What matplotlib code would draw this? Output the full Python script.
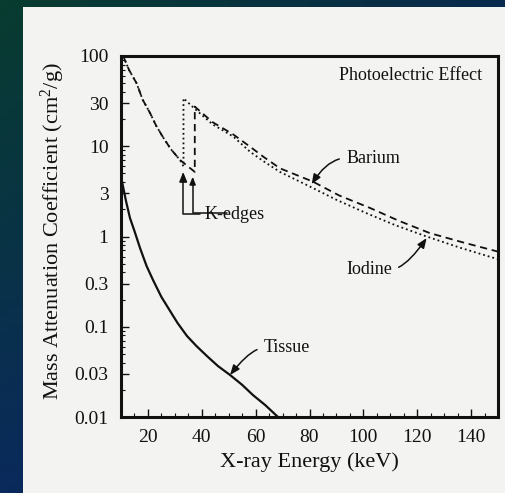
import numpy as np
import matplotlib
matplotlib.use('Agg')
import matplotlib.pyplot as plt
from matplotlib.patches import Rectangle
from matplotlib.ticker import FixedLocator, FixedFormatter, NullFormatter

plt.rcParams['font.family'] = ['Liberation Serif', 'DejaVu Serif']
plt.rcParams['mathtext.fontset'] = 'custom'
plt.rcParams['mathtext.rm'] = 'Liberation Serif'
plt.rcParams['mathtext.it'] = 'Liberation Serif:italic'

# ---------------- data ----------------
tissue_energy = [10.26, 11.86, 13.34, 15.0, 17.06, 19.5, 21.88, 25.0, 28.2, 31.0, 34.5, 38.0, 41.9, 46.0, 50.5, 55.0, 59.0, 63.5, 68.3]
tissue_mu     = [4.23, 2.47, 1.60, 1.15, 0.746, 0.471, 0.330, 0.214, 0.150, 0.110, 0.079, 0.0612, 0.0474, 0.0367, 0.0292, 0.0227, 0.0175, 0.0136, 0.010]

iodine_energy = [10.8, 13.0, 15.8, 18.0, 20.8, 23.0, 25.6, 28.5, 31.9, 33.2, 33.2, 37.4, 44.0, 51.7, 57.9, 63.0, 69.0, 80.2, 90.0, 101.2, 112.0, 123.5, 136.0, 150.0]
iodine_mu     = [100, 70, 49.8, 33.0, 23.3, 17.0, 12.6, 9.3, 7.05, 6.0, 34.0, 26.0, 17.5, 12.8, 8.7, 6.8, 5.2, 3.57, 2.55, 1.81, 1.33, 1.0, 0.75, 0.56]

barium_energy = [10.8, 13.0, 15.8, 18.0, 20.8, 23.0, 25.6, 28.5, 31.9, 34.5, 37.4, 37.4, 44.0, 51.7, 57.9, 63.0, 69.0, 81.3, 91.0, 102.5, 113.0, 124.7, 137.0, 150.0]
barium_mu     = [100, 70, 49.8, 33.0, 23.3, 17.0, 12.6, 9.3, 7.05, 6.1, 5.2, 27.5, 18.5, 13.5, 9.9, 7.6, 5.7, 4.05, 2.85, 2.07, 1.5, 1.09, 0.86, 0.68]

x_ticks = [20, 40, 60, 80, 100, 120, 140]
y_ticks = [0.01, 0.03, 0.1, 0.3, 1, 3, 10, 30, 100]
y_tick_labels = ['0.01', '0.03', '0.1', '0.3', '1', '3', '10', '30', '100']

# ---------------- figure ----------------
W, H = 505, 493
fig = plt.figure(figsize=(W / 100, H / 100), dpi=100)

# slide background gradient
bg = fig.add_axes([0, 0, 1, 1])
bg.set_axis_off()
tl = np.array([8, 60, 48]) / 255
tr = np.array([8, 42, 78]) / 255
bl = np.array([10, 42, 92]) / 255
br = np.array([10, 40, 90]) / 255
u = np.linspace(0, 1, 64)[None, :, None]
v = np.linspace(0, 1, 64)[:, None, None]
grad = (1 - v) * ((1 - u) * tl + u * tr) + v * ((1 - u) * bl + u * br)
bg.imshow(grad, extent=[0, 1, 0, 1], aspect='auto', origin='upper')
bg.set_xlim(0, 1)
bg.set_ylim(0, 1)
bg.add_patch(Rectangle((22.5 / W, 0), 1, (H - 7) / H, facecolor='#f3f3f1',
                       edgecolor='none', transform=bg.transAxes))

ax = fig.add_axes([121 / W, (H - 417) / H, 377 / W, 361 / H])
ax.set_facecolor('none')

ink = '#111111'
ax.plot(tissue_energy, tissue_mu, color=ink, lw=1.6, solid_capstyle='butt')
ax.plot(iodine_energy, iodine_mu, color=ink, lw=1.3, linestyle=':')
ax.plot(barium_energy, barium_mu, color=ink, lw=1.3, linestyle=(0, (4, 2.6)))

ax.set_yscale('log')
ax.set_xlim(10, 150)
ax.set_ylim(0.01, 100)

ax.xaxis.set_major_locator(FixedLocator(x_ticks))
ax.xaxis.set_minor_locator(FixedLocator([e for e in range(15, 150, 5) if e not in x_ticks]))
ax.yaxis.set_major_locator(FixedLocator(y_ticks))
ax.yaxis.set_major_formatter(FixedFormatter(y_tick_labels))
minor_y = [m * 10.0 ** k for k in range(-2, 2) for m in (2, 4, 5, 6, 7, 8, 9)]
ax.yaxis.set_minor_locator(FixedLocator(minor_y))
ax.yaxis.set_minor_formatter(NullFormatter())

ax.tick_params(which='major', direction='in', length=6, width=1, colors=ink,
               labelsize=14, top=False, right=False)
ax.tick_params(which='minor', direction='in', length=3, width=0.8, colors=ink,
               top=False, right=False)
ax.tick_params(axis='x', which='major', pad=9)
ax.tick_params(axis='y', which='major', pad=9)

for s in ax.spines.values():
    s.set_linewidth(2.2)
    s.set_color(ink)

ax.set_xlabel('X-ray Energy (keV)', fontsize=16, color=ink)
ax.set_ylabel('Mass Attenuation Coefficient (cm$^2$/g)', fontsize=16, color=ink)
ax.xaxis.set_label_coords(0.501, -0.097)
ax.yaxis.set_label_coords(-0.142, 0.514)

ax.text(0.767, 0.947, 'Photoelectric Effect', transform=ax.transAxes,
        ha='center', va='center', fontsize=13, color=ink)

ann_kw = dict(fontsize=13, color=ink, ha='center', va='center')
ap = dict(arrowstyle='-|>,head_length=0.45,head_width=0.18', color=ink, lw=1.1,
          shrinkB=0)

ax.annotate('Barium', xy=(80.8, 3.8), xytext=(103.6, 7.4),
            arrowprops=dict(ap, shrinkA=3, relpos=(0, 0.5),
                            connectionstyle='angle3,angleA=0,angleB=58'), **ann_kw)
ax.annotate('Iodine', xy=(123.5, 0.96), xytext=(102.1, 0.436),
            arrowprops=dict(ap, shrinkA=3, relpos=(1, 0.5),
                            connectionstyle='angle3,angleA=0,angleB=55'), **ann_kw)
ax.annotate('Tissue', xy=(50.5, 0.0292), xytext=(71.6, 0.0582),
            arrowprops=dict(ap, shrinkA=3, relpos=(0, 0.5),
                            connectionstyle='angle3,angleA=0,angleB=52'), **ann_kw)
ax.annotate('K-edges', xy=(33.1, 5.2), xytext=(52.0, 1.77),
            arrowprops=dict(ap, shrinkA=1, relpos=(0, 0.5),
                            connectionstyle='angle,angleA=0,angleB=90,rad=0'), **ann_kw)
ax.annotate('', xy=(36.6, 4.6), xytext=(49.5, 1.83),
            textcoords='data',
            arrowprops=dict(ap, shrinkA=0, patchA=None,
                            connectionstyle='angle,angleA=0,angleB=90,rad=0'))

fig.savefig('out.png', dpi=100)
